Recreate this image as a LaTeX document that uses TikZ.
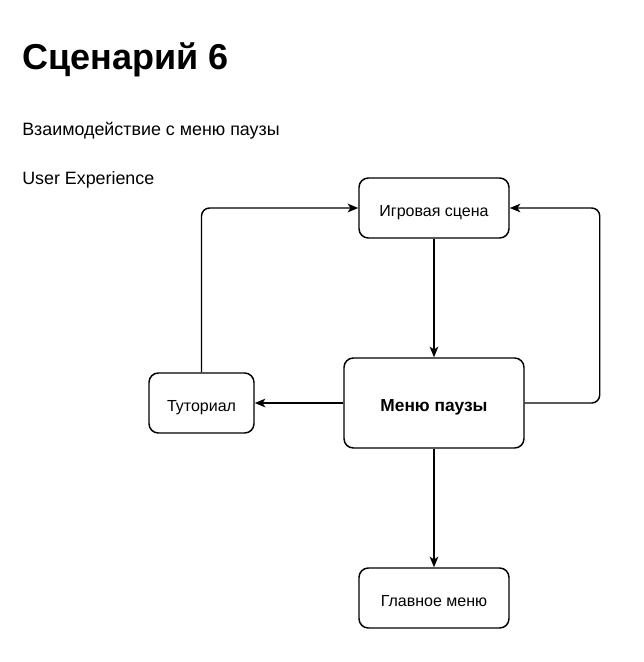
\documentclass[tikz,border=0pt]{standalone}
\usepackage{fontspec}
\setmainfont{Liberation Sans}
\usetikzlibrary{arrows.meta, positioning}

\begin{document}
\begin{tikzpicture}[
        x=0.75pt, y=-0.75pt,
        box/.style={rectangle, draw, line width=1.1pt, rounded corners=7pt, minimum width=112.5pt, minimum height=45pt, text height=12pt, text depth=0pt, font=\fontsize{12}{14}\selectfont},
        bigbox/.style={box, minimum width=135pt, minimum height=67.5pt, font=\fontsize{13}{15}\selectfont\bfseries},
        note/.style={anchor=base west, inner sep=0pt, font=\fontsize{13.4}{16}\selectfont},
        link/.style={-{Stealth[length=8pt, width=6.5pt, inset=2.2pt]}, line width=1.1pt, rounded corners=6pt}
    ]
        \useasboundingbox (0,0) rectangle (644,662);

        % Headings
        \node[note, font=\fontsize{27}{30}\selectfont\bfseries] (title) at (22,69) {Сценарий 6};
        \node[note] (subtitle) at (22,135) {Взаимодействие с меню паузы};
        \node[note] (ux) at (22,184) {User Experience};

        % Boxes
        \node[box] (igra) at (434, 208) {Игровая сцена};
        \node[bigbox] (pauza) at (434, 403) {Меню паузы};
        \node[box, minimum width=78.75pt] (tutor) at (201.5, 403) {Туториал};
        \node[box] (glavn) at (434, 598) {Главное меню};

        % Connecting lines
        \draw[link] (igra.south) -- (pauza.north);
        \draw[link] (pauza.west) -- (tutor.east);
        \draw[link] (pauza.south) -- (glavn.north);
        \draw[link] (tutor.north) |- (igra.west);
        \draw[link] (pauza.east) -- ++(75,0) |- (igra.east);
    \end{tikzpicture}
\end{document}
